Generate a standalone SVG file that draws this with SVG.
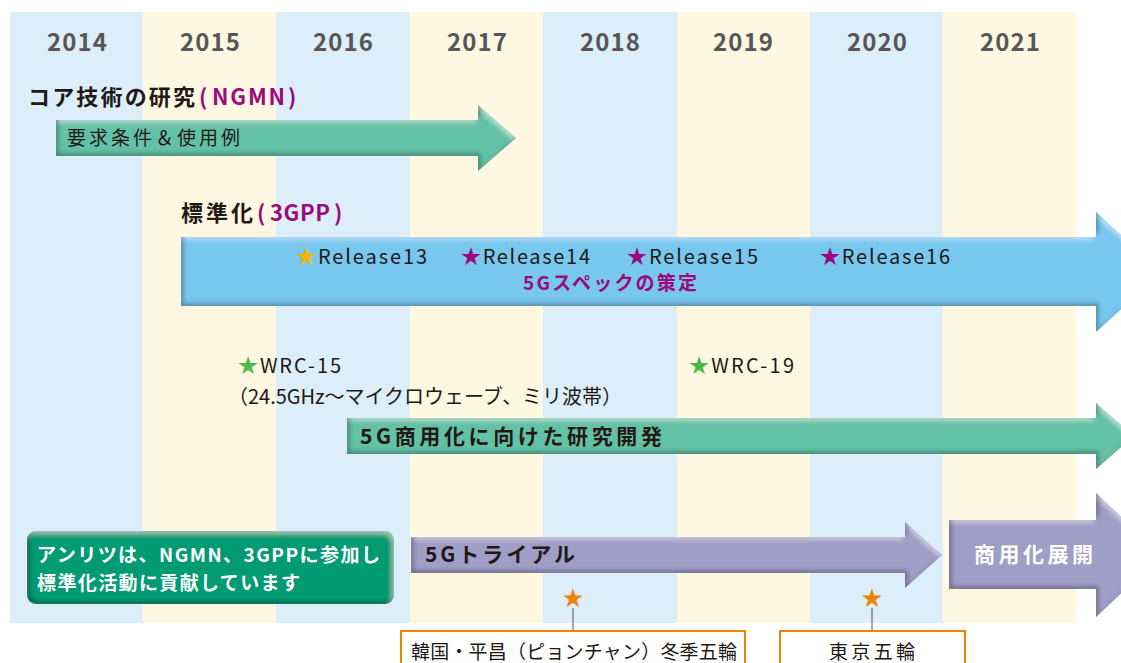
<svg xmlns="http://www.w3.org/2000/svg" width="1121" height="663" viewBox="0 0 1121 663">
<defs>
<style>
text{font-family:"Noto Sans CJK JP","Noto Sans",sans-serif;}
.yr{font-size:24px;font-weight:bold;fill:#575757;}
.ttl{font-size:22px;font-weight:bold;fill:#231815;}
.pur{fill:#9b0a7d;}
.rel{font-size:20px;fill:#231815;}
.lbl{font-size:21px;font-weight:bold;fill:#231815;}
.note{font-size:19px;fill:#231815;}
.cb{fill:#dceefa;}
.cy{fill:#fef7e1;}
.box{fill:#fff;stroke:#f08300;stroke-width:2;}
</style>
<filter id="bevel" x="-5%" y="-20%" width="110%" height="140%">
<feOffset in="SourceAlpha" dx="3" dy="-3"/>
<feGaussianBlur stdDeviation="2" result="ob"/>
<feComposite operator="out" in="SourceAlpha" in2="ob" result="inv"/>
<feFlood flood-color="#000" flood-opacity="0.5"/>
<feComposite operator="in" in2="inv" result="sh"/>
<feOffset in="SourceAlpha" dx="-2" dy="3" result="o2"/>
<feGaussianBlur in="o2" stdDeviation="2" result="ob2"/>
<feComposite operator="out" in="SourceAlpha" in2="ob2" result="inv2"/>
<feFlood flood-color="#fff" flood-opacity="0.35"/>
<feComposite operator="in" in2="inv2" result="hl"/>
<feMerge><feMergeNode in="SourceGraphic"/><feMergeNode in="hl"/><feMergeNode in="sh"/></feMerge>
</filter>
</defs>
<rect width="1121" height="663" fill="#fff"/>
<g id="columns">
<rect class="cb" x="10" y="12" width="134" height="611"/>
<rect class="cy" x="143" y="12" width="134" height="611"/>
<rect class="cb" x="276" y="12" width="135" height="611"/>
<rect class="cy" x="410" y="12" width="134" height="611"/>
<rect class="cb" x="543" y="12" width="135" height="611"/>
<rect class="cy" x="677" y="12" width="134" height="611"/>
<rect class="cb" x="810" y="12" width="134" height="611"/>
<rect class="cy" x="943" y="12" width="133" height="611"/>
</g>
<g id="years">
<text class="yr" x="47" y="51" textLength="60">2014</text>
<text class="yr" x="180" y="51" textLength="60">2015</text>
<text class="yr" x="313" y="51" textLength="60">2016</text>
<text class="yr" x="447" y="51" textLength="60">2017</text>
<text class="yr" x="580" y="51" textLength="60">2018</text>
<text class="yr" x="713" y="51" textLength="60">2019</text>
<text class="yr" x="847" y="51" textLength="60">2020</text>
<text class="yr" x="980" y="51" textLength="60">2021</text>
</g>
<g id="ngmn">
<text class="ttl" x="28" y="105"><tspan textLength="167">コア技術の研究</tspan><tspan class="pur" x="199">(</tspan><tspan class="pur" x="212" textLength="73">NGMN</tspan><tspan class="pur" x="288">)</tspan></text>
<polygon points="56,120 478,120 478,105 516,138 478,171 478,156 56,156" fill="#63c1a6" filter="url(#bevel)"/>
<text x="67" y="145" textLength="173" style="font-size:19px;fill:#231815">要求条件＆使用例</text>
</g>
<g id="gpp">
<text class="ttl" x="181" y="221"><tspan textLength="72">標準化</tspan><tspan class="pur" x="257">(</tspan><tspan class="pur" x="270" textLength="60">3GPP</tspan><tspan class="pur" x="334">)</tspan></text>
<polygon points="181,237 1096,237 1096,212 1162,272 1096,332 1096,306 181,306" fill="#78c7ef" filter="url(#bevel)"/>
<text class="rel" x="296" y="264" textLength="131"><tspan fill="#f5b400">★</tspan>Release13</text>
<text class="rel" x="461" y="264" textLength="129"><tspan class="pur">★</tspan>Release14</text>
<text class="rel" x="627" y="264" textLength="131"><tspan class="pur">★</tspan>Release15</text>
<text class="rel" x="820" y="264" textLength="130"><tspan class="pur">★</tspan>Release16</text>
<text x="523" y="290" textLength="174" style="font-size:19px;font-weight:bold;fill:#9b0a7d">5Gスペックの策定</text>
</g>
<g id="wrc15">
<text class="rel" x="238" y="373" textLength="103"><tspan fill="#4cb848">★</tspan>WRC-15</text>
<text class="rel" x="228" y="404" textLength="394">（24.5GHz～マイクロウェーブ、ミリ波帯）</text>
</g>
<g id="wrc19">
<text class="rel" x="689" y="373" textLength="105"><tspan fill="#4cb848">★</tspan>WRC-19</text>
</g>
<g id="rd">
<polygon points="347,418 1096,418 1096,403 1134,436 1096,469 1096,454 347,454" fill="#63c1a6" filter="url(#bevel)"/>
<text class="lbl" x="360" y="444" textLength="302">5G商用化に向けた研究開発</text>
</g>
<g id="anritsu">
<rect x="27" y="531" width="367" height="73" rx="9" fill="#009a73" filter="url(#bevel)"/>
<text x="37" y="562" textLength="343" style="font-size:19px;font-weight:bold;fill:#fff">アンリツは、NGMN、3GPPに参加し</text>
<text x="37" y="590" textLength="263" style="font-size:19px;font-weight:bold;fill:#fff">標準化活動に貢献しています</text>
</g>
<g id="trial">
<polygon points="411,537 905,537 905,522 942,555 905,588 905,573 411,573" fill="#a09dc7" filter="url(#bevel)"/>
<text class="lbl" x="425" y="562" textLength="150">5Gトライアル</text>
</g>
<g id="commercial">
<polygon points="949,520 1096,520 1096,493 1162,555 1096,617 1096,589 949,589" fill="#a09dc7" filter="url(#bevel)"/>
<text x="974" y="562" textLength="119" style="font-size:21px;font-weight:bold;fill:#fff">商用化展開</text>
</g>
<g id="connectors">
<line x1="573" y1="608" x2="573" y2="630" stroke="#555" stroke-width="1"/>
<line x1="872" y1="608" x2="872" y2="630" stroke="#555" stroke-width="1"/>
</g>
<g id="pyeongchang">
<text x="573" y="605" text-anchor="middle" style="font-size:21px;fill:#f08300">★</text>
<rect class="box" x="401" y="631" width="344" height="50"/>
<text class="note" x="411" y="659" textLength="326">韓国・平昌（ピョンチャン）冬季五輪</text>
</g>
<g id="tokyo">
<text x="872" y="605" text-anchor="middle" style="font-size:21px;fill:#f08300">★</text>
<rect class="box" x="780" y="631" width="185" height="50"/>
<text class="note" x="829" y="659" textLength="86">東京五輪</text>
</g>
</svg>
